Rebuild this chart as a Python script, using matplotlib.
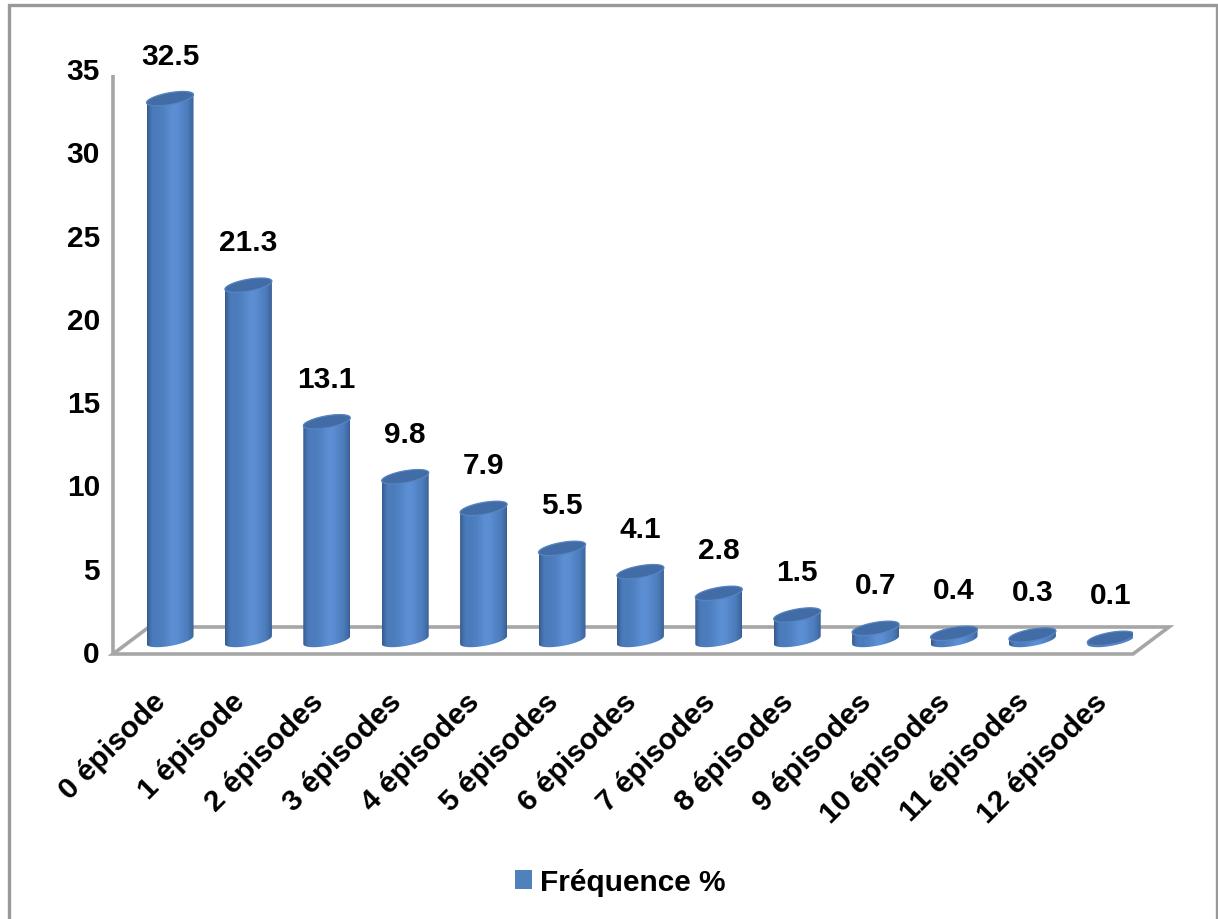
import numpy as np
import matplotlib
matplotlib.use("Agg")
import matplotlib.pyplot as plt
from matplotlib.patches import Polygon, Rectangle, Patch

plt.rcParams['font.family'] = ['Liberation Sans', 'DejaVu Sans']
plt.rcParams['font.weight'] = 'bold'

# Data
categories = ["0 épisode", "1 épisode", "2 épisodes", "3 épisodes", "4 épisodes",
              "5 épisodes", "6 épisodes", "7 épisodes", "8 épisodes", "9 épisodes",
              "10 épisodes", "11 épisodes", "12 épisodes"]
values = [32.5, 21.3, 13.1, 9.8, 7.9, 5.5, 4.1, 2.8, 1.5, 0.7, 0.4, 0.3, 0.1]
value_labels = ["32.5", "21.3", "13.1", "9.8", "7.9", "5.5", "4.1", "2.8", "1.5",
                "0.7", "0.4", "0.3", "0.1"]
yticks = [0, 5, 10, 15, 20, 25, 30, 35]
series_name = "Fréquence %"

W, H = 1218, 920
fs = 21.5
fig = plt.figure(figsize=(W / 100, H / 100), dpi=100)

# axes placed in pixel terms: value 0 at y=655, 35 at y=72; x from 113 to 1133
px_left, px_right, px_bot, px_top = 113, 1133, 655, 72
ax = fig.add_axes([px_left / W, 1 - px_bot / H, (px_right - px_left) / W, (px_bot - px_top) / H])
spacing = 78.4  # px per category
x0 = (px_left - 170) / spacing
x1 = x0 + (px_right - px_left) / spacing
ppv = (px_bot - px_top) / 35.0  # px per value unit

ax.set_xlim(x0, x1)
ax.set_ylim(0, 35)
ax.axis('off')

# 3D depth of the floor
ddx = 36 / spacing
ddy = 27 / ppv
grey = '#a6a6a6'

floor = Polygon([[x0, 0], [x1, 0], [x1 + ddx, ddy], [x0 + ddx, ddy]], closed=True,
                fill=False, edgecolor=grey, lw=2.6, clip_on=False, zorder=1)
ax.add_patch(floor)
ax.plot([x0, x0], [0, 34.75], color=grey, lw=2.6, clip_on=False, zorder=1,
        solid_capstyle='butt')

# y tick labels
for t in yticks:
    ax.text(x0 - 13 / spacing, t, str(t), ha='right', va='center', fontsize=fs,
            fontweight='bold', clip_on=False)

# cylinder bars
bw = 47 / spacing
eh = 6 / ppv          # ellipse half height
tilt = 4 / ppv        # slight tilt of ellipses
base = 8 / ppv + eh   # centre of base ellipse
dark_l = np.array([0x33, 0x55, 0x86]) / 255
mid = np.array([0x4b, 0x7b, 0xbb]) / 255
light = np.array([0x5c, 0x8f, 0xd4]) / 255
dark_r = np.array([0x36, 0x5c, 0x8e]) / 255
nx = 96
u = np.linspace(0, 1, nx)
grad = np.zeros((1, nx, 3))
edge_l = np.clip(u / 0.12, 0, 1) ** 0.6
edge_r = np.clip((1 - u) / 0.14, 0, 1) ** 0.6
hi = np.exp(-((u - 0.58) / 0.2) ** 2)
for k in range(3):
    body_c = mid[k] + (light[k] - mid[k]) * hi
    c = dark_l[k] + (body_c - dark_l[k]) * edge_l
    grad[0, :, k] = dark_r[k] + (c - dark_r[k]) * edge_r

t_lo = np.linspace(np.pi, 2 * np.pi, 40)   # lower half, left -> right
t_up = np.linspace(0, np.pi, 40)           # upper half, right -> left
t_full = np.linspace(0, 2 * np.pi, 80)

for i, v in enumerate(values):
    cx = i
    top = v + base
    a = bw / 2

    def ell(tt, cy):
        xs = cx + a * np.cos(tt)
        ys = cy + eh * np.sin(tt) + tilt * np.cos(tt)
        return xs, ys

    bx, by = ell(t_lo, base)
    tx, ty = ell(t_up, top)
    px = np.concatenate([bx, tx])
    py = np.concatenate([by, ty])
    body = Polygon(np.column_stack([px, py]), closed=True, facecolor='none',
                   edgecolor='none', zorder=3)
    ax.add_patch(body)
    im = ax.imshow(grad, extent=[cx - a, cx + a, base - eh - tilt, top + eh + tilt],
                   aspect='auto', interpolation='bilinear', zorder=3)
    im.set_clip_path(body)

    ex, ey = ell(t_full, top)
    ax.add_patch(Polygon(np.column_stack([ex, ey]), closed=True,
                         facecolor='#426ca6', edgecolor='#5885c2', lw=0.9, zorder=4))

    # data label
    ax.annotate(value_labels[i], (cx, v), xytext=(0, 41), textcoords='offset points',
                ha='center', va='center', fontsize=fs, fontweight='bold',
                annotation_clip=False, zorder=5)

    # category label
    ax.text(cx - 18 / spacing, -33 / ppv, categories[i], rotation=45,
            rotation_mode='anchor', ha='right', va='top', fontsize=fs,
            fontweight='bold', clip_on=False)

ax.set_xlim(x0, x1)
ax.set_ylim(0, 35)

# legend
fig.legend(handles=[Patch(facecolor='#4f81bd', edgecolor='none')], labels=[series_name],
           loc='center', bbox_to_anchor=(620 / W, 1 - 883 / H), frameon=False,
           handlelength=0.6, handleheight=0.6, handletextpad=0.25,
           prop={'weight': 'bold', 'size': fs})

# outer chart border
fig.add_artist(Rectangle((9 / W, -0.01), (W - 10) / W, 1 - 6 / H + 0.01,
                         transform=fig.transFigure, fill=False, edgecolor='#999999',
                         lw=2.4))

fig.savefig("out.png", dpi=100)
